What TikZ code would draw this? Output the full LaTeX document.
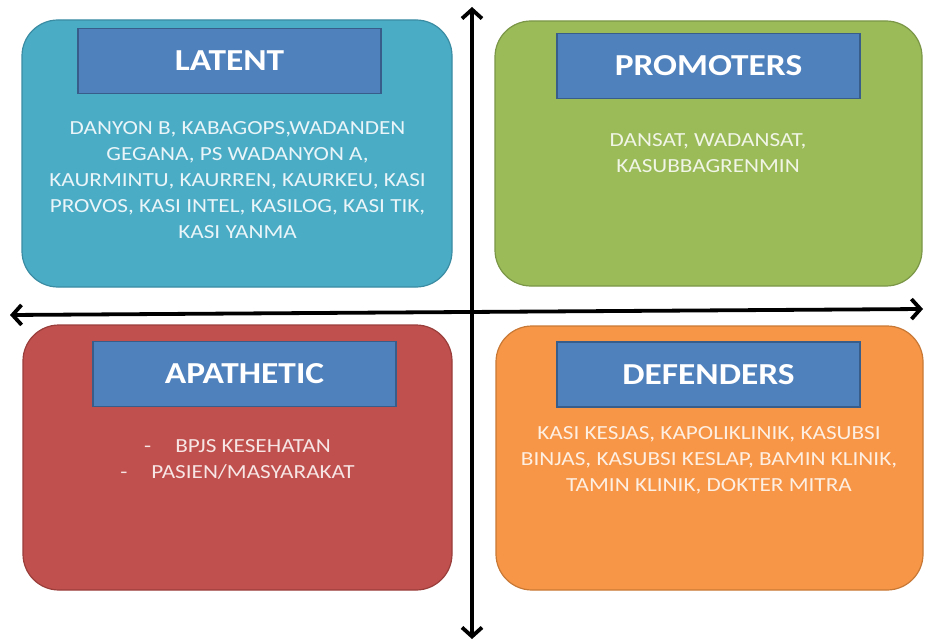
\documentclass[tikz,border=0pt]{standalone}
\usepackage{fontspec}
\setmainfont{Carlito}
\newfontfamily\widefont[FakeStretch=1.16]{Carlito}
\usetikzlibrary{arrows.meta}
\definecolor{latfill}{HTML}{4BACC6}
\definecolor{latdraw}{HTML}{3A8CA3}
\definecolor{promfill}{HTML}{9BBB59}
\definecolor{promdraw}{HTML}{7A9646}
\definecolor{apafill}{HTML}{C0504D}
\definecolor{apadraw}{HTML}{9A3E3B}
\definecolor{deffill}{HTML}{F79646}
\definecolor{defdraw}{HTML}{C87835}
\definecolor{titfill}{HTML}{4F81BD}
\definecolor{titdraw}{HTML}{385D8A}
\tikzset{
  quad/.style={rounded corners=36pt, line width=1.2pt, minimum width=#1, inner sep=0pt},
  titlebox/.style={fill=titfill, draw=titdraw, line width=1.5pt, minimum width=303pt, minimum height=65pt, inner sep=0pt,
    text=white, font=\widefont\fontsize{30.5}{31}\selectfont\bfseries},
  bodytext/.style={align=center, inner sep=0pt, font=\widefont\fontsize{20}{26}\selectfont},
  axis/.style={line width=3.8pt, {Straight Barb[length=9pt,width=20pt,line width=3.8pt]}-{Straight Barb[length=9pt,width=20pt,line width=3.8pt]}}
}
\begin{document}
\begin{tikzpicture}[x=1pt,y=-1pt]
\useasboundingbox (0,0) rectangle (925,644);
\fill[white] (0,0) rectangle (925,644);
% quadrants
\node[quad=430pt, minimum height=267pt, fill=latfill, draw=latdraw] (lat) at (237,153.5) {};
\node[quad=427pt, minimum height=265pt, fill=promfill, draw=promdraw] (prom) at (708.5,153.5) {};
\node[quad=429pt, minimum height=265pt, fill=apafill, draw=apadraw] (apa) at (237.5,457.5) {};
\node[quad=427pt, minimum height=264pt, fill=deffill, draw=defdraw] (def) at (709.5,458) {};
% titles
\node[titlebox] (latt) at (229.5,61) {LATENT};
\node[titlebox] (promt) at (708.5,66) {PROMOTERS};
\node[titlebox] (apat) at (244.5,374) {APATHETIC};
\node[titlebox] (deft) at (708.5,374.5) {DEFENDERS};
% body texts
\node[bodytext, text=latfill!12!white] (latb) at (237.5,180) {DANYON B, KABAGOPS,WADANDEN\\GEGANA, PS WADANYON A,\\KAURMINTU, KAURREN, KAURKEU, KASI\\PROVOS, KASI INTEL, KASILOG, KASI TIK,\\KASI YANMA};
\node[bodytext, text=promfill!15!white] (promb) at (708,153) {DANSAT, WADANSAT,\\KASUBBAGRENMIN};
\node[bodytext, text=apafill!15!white] (apab) at (237.5,459.5) {-\hspace{24pt}BPJS KESEHATAN\\-\hspace{24pt}PASIEN/MASYARAKAT};
\node[bodytext, text=deffill!15!white] (defb) at (709,460) {KASI KESJAS, KAPOLIKLINIK, KASUBSI\\BINJAS, KASUBSI KESLAP, BAMIN KLINIK,\\TAMIN KLINIK, DOKTER MITRA};
% axes
\coordinate (top) at (472,7);
\coordinate (bot) at (472,639);
\coordinate (lft) at (10,315);
\coordinate (rgt) at (923,309);
\draw[axis] (bot) -- (top);
\draw[axis] (lft) -- (rgt);
\end{tikzpicture}
\end{document}
